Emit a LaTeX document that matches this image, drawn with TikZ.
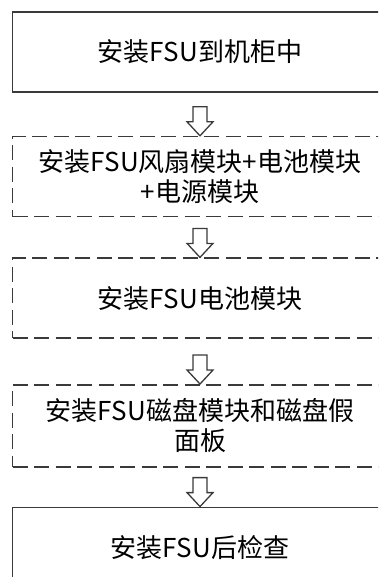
\documentclass[tikz,border=0pt]{standalone}
\usepackage{fontspec}
\setmainfont{Noto Sans CJK SC}
\usepackage{tikz}
\usetikzlibrary{positioning}
\definecolor{edgegray}{HTML}{3A3A3A}
\tikzset{
  stepbox/.style={draw=edgegray, line width=1.6pt, minimum width=375pt, minimum height=80pt, font=\fontsize{26}{30}\selectfont, align=center, inner sep=2pt},
  optbox/.style={stepbox, dashed, dash pattern=on 15pt off 6.5pt},
  hollowdown/.pic={
    \draw[edgegray, line width=1.3pt, line join=miter, fill=white]
      (0,0) -- (-13pt,14pt) -- (-7pt,14pt) -- (-7pt,29pt) -- (7pt,29pt) -- (7pt,14pt) -- (13pt,14pt) -- cycle;
  },
}

\begin{document}
\begin{tikzpicture}[node distance=43pt]
  \clip (0,0) rectangle (378pt,-577pt);

  % Steps
  \node[stepbox] (rack) at (200pt,-52pt) {安装FSU到机柜中};
  \node[optbox, below=43pt of rack] (fanpsu) {安装FSU风扇模块+电池模块\\+电源模块};
  \node[optbox, below=40pt of fanpsu] (battery) {安装FSU电池模块};
  \node[optbox, below=45pt of battery, minimum height=82pt] (disk) {安装FSU磁盘模块和磁盘假\\面板};
  \node[stepbox, below=39pt of disk] (check) {安装FSU后检查};

  % Arrows
  \pic at (fanpsu.north) {hollowdown};
  \pic at (battery.north) {hollowdown};
  \pic at (disk.north) {hollowdown};
  \pic at (check.north) {hollowdown};
\end{tikzpicture}
\end{document}
